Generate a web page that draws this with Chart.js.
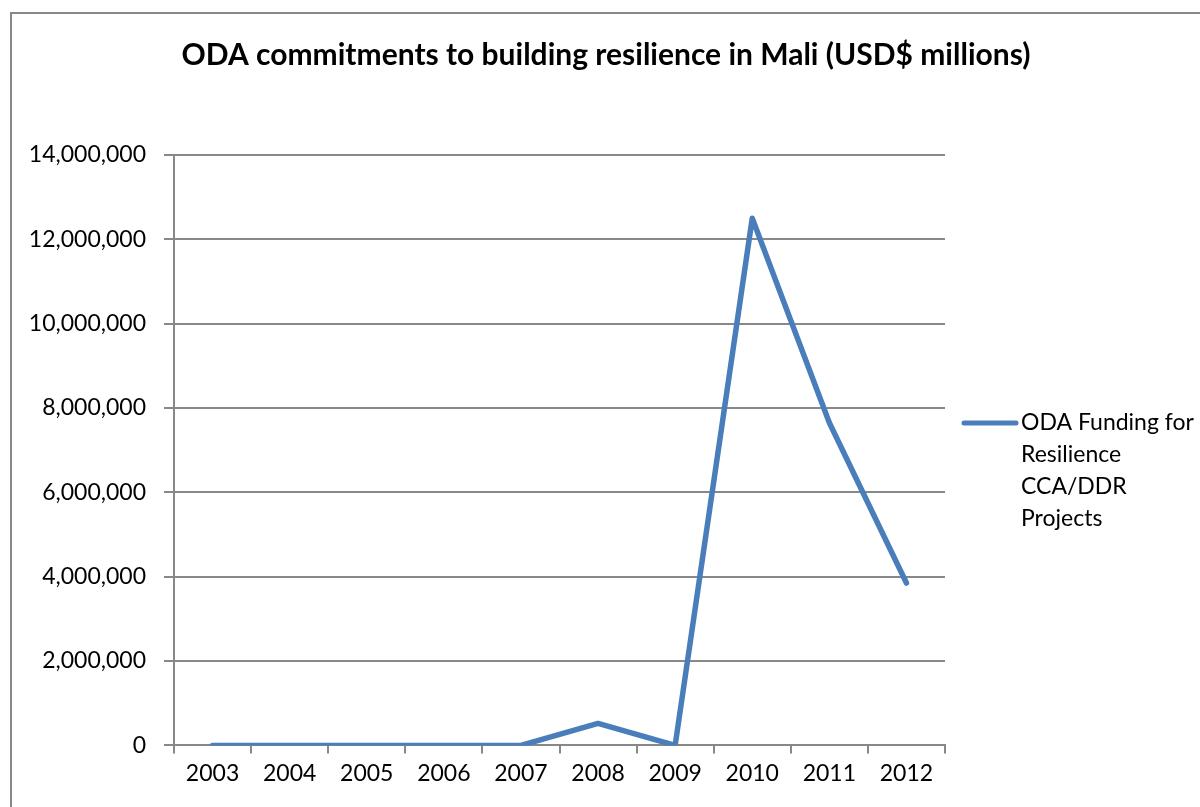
<!DOCTYPE html>
<html>
<head>
<meta charset="utf-8">
<script src="https://cdn.jsdelivr.net/npm/chart.js@4"></script>
<style>
  html, body { margin: 0; padding: 0; background: #fff; }
  #wrap { position: relative; width: 1200px; height: 807px; overflow: hidden; }
  #frame { position: absolute; left: 10px; top: 12px; width: 1200px; height: 820px; border: 2px solid #888; box-sizing: border-box; }
  canvas { position: absolute; left: 0; top: 0; }
</style>
</head>
<body>
<div id="wrap">
  <div id="frame"></div>
  <canvas id="myChart" width="1200" height="807"></canvas>
</div>
<script>
const anos = ["2003", "2004", "2005", "2006", "2007", "2008", "2009", "2010", "2011", "2012"];
const financiamento = [0, 0, 0, 0, 0, 520000, 0, 12500000, 7650000, 3850000];
const serieNome = "ODA Funding for\nResilience\nCCA/DDR\nProjects";
const titulo = "ODA commitments to building resilience in Mali (USD$ millions)";

const fonte = "Lato, 'Open Sans', sans-serif";
const azul = "#4a7ebb";
const cinza = "#888888";

// título centrado na moldura toda, não só na área do gráfico
const tituloTopo = {
  id: "tituloTopo",
  afterDraw(chart) {
    const c = chart.ctx;
    c.save();
    c.fillStyle = "#000";
    c.font = "bold 30px " + fonte;
    c.textAlign = "center";
    c.textBaseline = "middle";
    c.fillText(titulo, 606, 55);
    c.restore();
  },
};

// legenda desenhada à mão, com o texto quebrado em linhas
const legendaLateral = {
  id: "legendaLateral",
  afterDraw(chart) {
    const c = chart.ctx;
    const ds = chart.data.datasets[0];
    const linhas = ds.label.split("\n");
    const y0 = 423;
    c.save();
    c.strokeStyle = ds.borderColor;
    c.lineWidth = 5;
    c.lineCap = "round";
    c.beginPath();
    c.moveTo(964, y0);
    c.lineTo(1016, y0);
    c.stroke();
    c.fillStyle = "#000";
    c.font = "23px " + fonte;
    c.textBaseline = "middle";
    linhas.forEach((t, i) => c.fillText(t, 1021, y0 + i * 32));
    c.restore();
  },
};

const ctx = document.getElementById("myChart");
const grafico = new Chart(ctx, {
  type: "line",
  data: {
    labels: anos,
    datasets: [
      {
        label: serieNome,
        data: financiamento,
        borderColor: azul,
        backgroundColor: azul,
        borderWidth: 5.5,
        borderCapStyle: "round",
        borderJoinStyle: "round",
        pointRadius: 0,
        tension: 0,
      },
    ],
  },
  options: {
    responsive: false,
    animation: false,
    layout: { padding: { top: 155, right: 255, bottom: 14, left: 0 } },
    plugins: {
      legend: { display: false },
      tooltip: { enabled: false },
      title: { display: false },
    },
    scales: {
      x: {
        offset: true,
        grid: {
          offset: true,
          drawOnChartArea: false,
          drawTicks: true,
          tickLength: 8,
          color: cinza,
          lineWidth: 2,
        },
        border: { color: cinza, width: 2 },
        ticks: {
          color: "#000",
          font: { family: fonte, size: 23 },
          padding: 6,
          maxRotation: 0,
        },
      },
      y: {
        min: 0,
        max: 14000000,
        afterFit(scale) {
          scale.width = 174;
        },
        grid: {
          color: cinza,
          lineWidth: 2,
          tickLength: 10,
        },
        border: { color: cinza, width: 2 },
        ticks: {
          stepSize: 2000000,
          color: "#000",
          font: { family: fonte, size: 23 },
          padding: 18,
          callback: (v) => v.toLocaleString("en-US"),
        },
      },
    },
  },
  plugins: [tituloTopo, legendaLateral],
});
</script>
</body>
</html>
